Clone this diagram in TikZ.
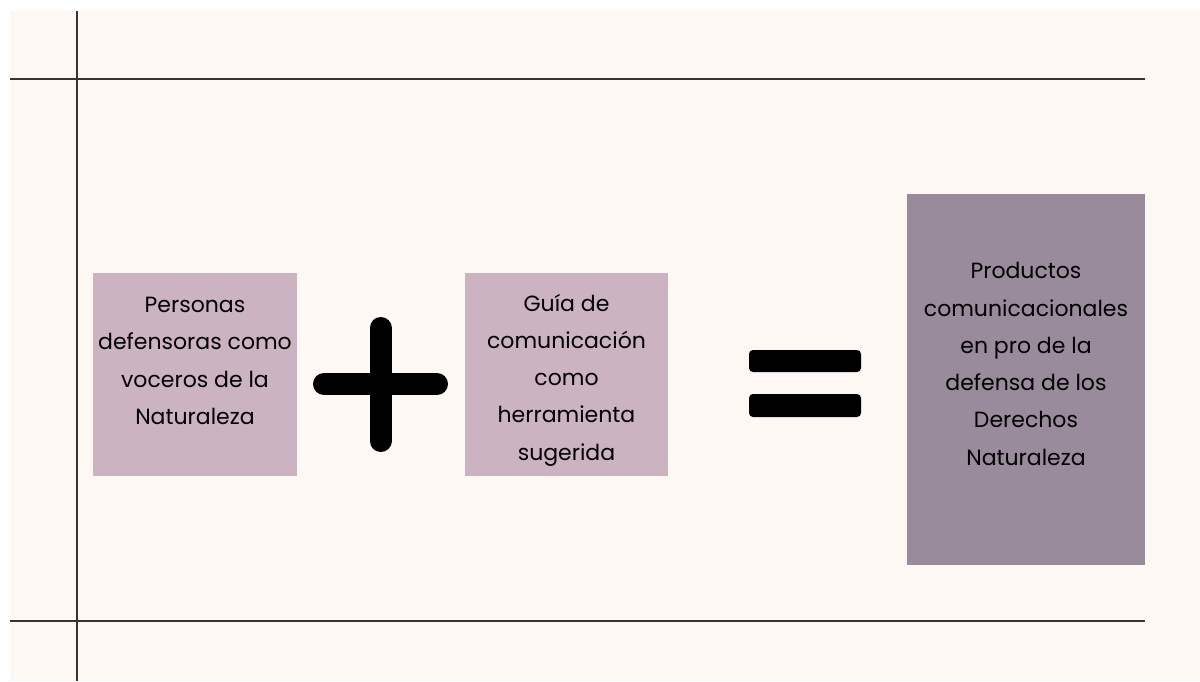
\documentclass[tikz,border=0pt]{standalone}
\usepackage{fontspec}
\setmainfont{Poppins}
\definecolor{cream}{HTML}{FDF8F4}
\definecolor{mauve}{HTML}{CCB3C1}
\definecolor{dmauve}{HTML}{9A8B9C}
\definecolor{rule}{HTML}{353535}
\tikzset{
  box/.style={fill=#1, draw=none, inner sep=0pt},
  label/.style={align=center, font=\fontsize{22}{37.3}\selectfont, text=black, inner sep=0pt},
  gridline/.style={draw=rule, line width=1.6pt},
  sym/.style={line width=22pt, line cap=round, draw=black},
}
\begin{document}
\begin{tikzpicture}[x=1pt,y=-1pt]
\useasboundingbox (0,0) rectangle (1200,681);
\fill[white] (0,0) rectangle (1200,681);
\fill[cream] (10,11) rectangle (1200,681);
% grid lines
\coordinate (vt) at (77,11);
\coordinate (vb) at (77,681);
\coordinate (h1l) at (10,79);
\coordinate (h1r) at (1145,79);
\coordinate (h2l) at (10,621);
\coordinate (h2r) at (1145,621);
\draw[gridline] (h1l) -- (h1r);
\draw[gridline] (h2l) -- (h2r);
\draw[gridline] (vt) -- (vb);
% boxes
\fill[mauve] (93,273) rectangle (297,476);
\fill[mauve] (465,273) rectangle (668,476);
\fill[dmauve] (907,194) rectangle (1145,565);
\node[label] (t1) at (195,361) {Personas\\defensoras como\\voceros de la\\Naturaleza};
\node[label] (t2) at (566.5,380) {Guía de\\comunicación\\como\\herramienta\\sugerida};
\node[label] (t3) at (1026,364) {Productos\\comunicacionales\\en pro de la\\defensa de los\\Derechos\\Naturaleza};
% plus sign
\coordinate (pl) at (324,384);
\coordinate (pr) at (437,384);
\coordinate (pt) at (380.5,328);
\coordinate (pb) at (380.5,441);
\draw[sym] (pl) -- (pr);
\draw[sym] (pt) -- (pb);
% equals sign
\fill[black, rounded corners=4pt] (749,350) rectangle (861,372);
\fill[black, rounded corners=4pt] (749,394) rectangle (861,417);
\end{tikzpicture}
\end{document}
